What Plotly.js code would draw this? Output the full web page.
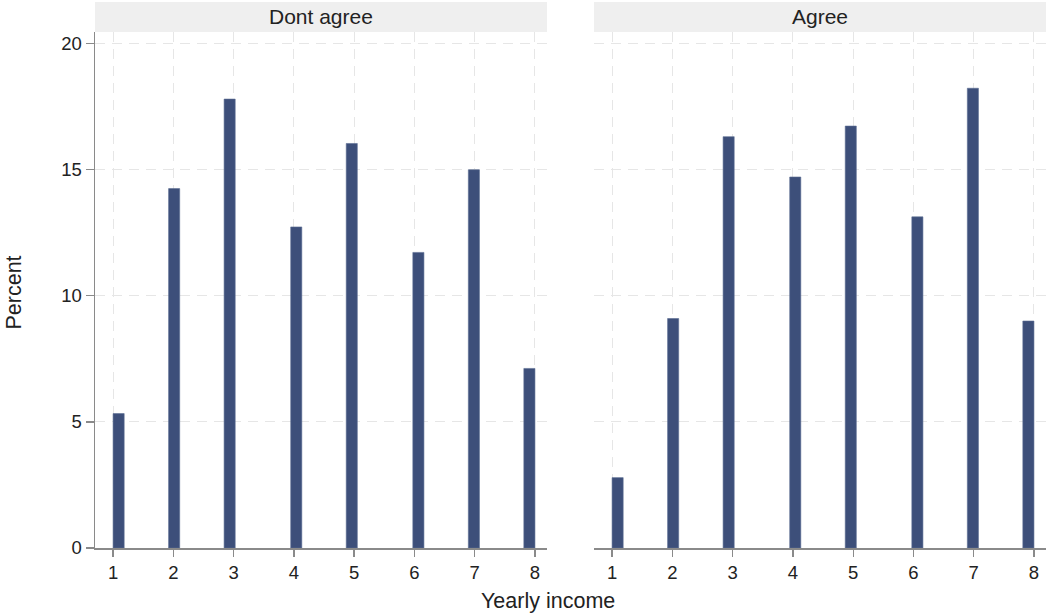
<!DOCTYPE html>
<html>
<head>
<meta charset="utf-8">
<script src="https://cdn.plot.ly/plotly-3.0.1.min.js"></script>
<style>
  html, body { margin: 0; padding: 0; background: #ffffff; }
  #chart { width: 1046px; height: 615px; }
</style>
</head>
<body>
<div id="chart"></div>
<script>
// ---- Data ----
const incomeLevels = [1, 2, 3, 4, 5, 6, 7, 8];
const panelNames = ["Dont agree", "Agree"];
const pctDontAgree = [5.33, 14.25, 17.8, 12.73, 16.04, 11.72, 15.0, 7.12];
const pctAgree = [2.79, 9.1, 16.31, 14.71, 16.73, 13.13, 18.23, 9.0];
const yTickVals = [0, 5, 10, 15, 20];
const xTickVals = [1, 2, 3, 4, 5, 6, 7, 8];

// Histogram binning as used by the original (38 equal bins spanning 1..8)
const nBins = 38;
const binMin = 1, binMax = 8;
const binW = (binMax - binMin) / nBins;
function binOffsets(vals) {
  return vals.map(v => {
    let k = Math.floor((v - binMin) / binW + 1e-9);
    if (k > nBins - 1) k = nBins - 1;
    return (binMin + k * binW) - v;
  });
}

const barColor = "#3d4f7a";
const font = "Liberation Sans, Arial, Helvetica, sans-serif";

const traces = [
  {
    type: "bar", x: incomeLevels, y: pctDontAgree,
    offset: binOffsets(incomeLevels), width: binW,
    xaxis: "x", yaxis: "y",
    marker: { color: barColor, line: { color: "#5a6b92", width: 0.6 } },
    hoverinfo: "x+y", showlegend: false
  },
  {
    type: "bar", x: incomeLevels, y: pctAgree,
    offset: binOffsets(incomeLevels), width: binW,
    xaxis: "x2", yaxis: "y2",
    marker: { color: barColor, line: { color: "#5a6b92", width: 0.6 } },
    hoverinfo: "x+y", showlegend: false
  }
];

const L = 95, T = 32, B = 67, W = 1046, H = 615;
const plotW = W - L, plotH = H - T - B;
const leftDom = [0, (547 - L) / plotW];
const rightDom = [(594 - L) / plotW, 1];
const stripH = 30 / plotH;

const gridColor = "#e6e6e6";
const axisColor = "#8a8a8a";

const xCommon = {
  range: [0.7, 8.2], tickmode: "array", tickvals: xTickVals,
  ticks: "outside", ticklen: 7, tickwidth: 1.3, tickcolor: axisColor,
  showline: true, linecolor: axisColor, linewidth: 1.5,
  showgrid: true, gridcolor: gridColor, gridwidth: 1, griddash: "10px,7px",
  zeroline: false, tickfont: { family: font, size: 18.5, color: "#222" },
  fixedrange: true
};
const yCommon = {
  range: [0, 20.46], tickmode: "array", tickvals: yTickVals,
  showgrid: true, gridcolor: gridColor, gridwidth: 1, griddash: "10px,7px",
  zeroline: false, fixedrange: true
};

const layout = {
  width: W, height: H,
  margin: { l: L, r: 0, t: T, b: B, pad: 0 },
  paper_bgcolor: "#ffffff", plot_bgcolor: "#ffffff",
  font: { family: font, color: "#222" },
  bargap: 0,
  xaxis: Object.assign({}, xCommon, { domain: leftDom, anchor: "y" }),
  xaxis2: Object.assign({}, xCommon, { domain: rightDom, anchor: "y2" }),
  yaxis: Object.assign({}, yCommon, {
    domain: [0, 1], anchor: "x",
    showline: true, linecolor: axisColor, linewidth: 1.5,
    ticks: "outside", ticklen: 8, tickwidth: 1.3, tickcolor: axisColor,
    tickfont: { family: font, size: 18.5, color: "#222" }
  }),
  yaxis2: Object.assign({}, yCommon, {
    domain: [0, 1], anchor: "x2",
    showline: false, ticks: "", showticklabels: false
  }),
  shapes: [
    { type: "rect", xref: "paper", yref: "paper",
      x0: leftDom[0], x1: leftDom[1], y0: 1, y1: 1 + stripH,
      fillcolor: "#efefef", line: { width: 0 }, layer: "below" },
    { type: "rect", xref: "paper", yref: "paper",
      x0: rightDom[0], x1: rightDom[1], y0: 1, y1: 1 + stripH,
      fillcolor: "#efefef", line: { width: 0 }, layer: "below" }
  ],
  annotations: [
    { text: panelNames[0], xref: "paper", yref: "paper",
      x: (leftDom[0] + leftDom[1]) / 2, y: 1 + stripH / 2,
      xanchor: "center", yanchor: "middle", showarrow: false,
      font: { family: font, size: 21, color: "#222" } },
    { text: panelNames[1], xref: "paper", yref: "paper",
      x: (rightDom[0] + rightDom[1]) / 2, y: 1 + stripH / 2,
      xanchor: "center", yanchor: "middle", showarrow: false,
      font: { family: font, size: 21, color: "#222" } },
    { text: "Yearly income", xref: "paper", yref: "paper",
      x: (548 - L) / plotW, y: (548 - 601) / plotH,
      xanchor: "center", yanchor: "middle", showarrow: false,
      font: { family: font, size: 21.5, color: "#222" } },
    { text: "Percent", xref: "paper", yref: "paper",
      x: (13.5 - L) / plotW, y: (548 - 293) / plotH, textangle: -90,
      xanchor: "center", yanchor: "middle", showarrow: false,
      font: { family: font, size: 21.5, color: "#222" } }
  ]
};

Plotly.newPlot("chart", traces, layout, { displayModeBar: false, staticPlot: true });
</script>
</body>
</html>
